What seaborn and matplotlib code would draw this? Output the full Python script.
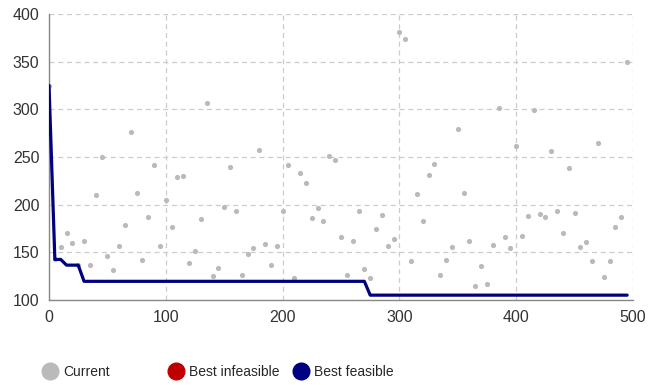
import seaborn as sns
import matplotlib.pyplot as plt
import pandas as pd
from matplotlib.lines import Line2D

# iteration sampled every 5 steps
iterations = list(range(0, 500, 5))

current = [325, 142.5, 155.3, 170.4, 159.5, 136.5, 161.6, 136.4, 210.3, 250.2,
           145.9, 131.9, 157.1, 178.8, 276.1, 212.4, 142, 186.8, 242.1, 157.1,
           204.7, 176.7, 228.5, 230.2, 138.5, 151.5, 184.7, 306.5, 125.6, 133,
           197.3, 240, 193.8, 126, 148, 154.3, 257.5, 159.2, 137.1, 156.4,
           193.1, 241.4, 123.5, 232.7, 223.2, 185.8, 196, 182.6, 251.2, 247,
           166.5, 126.6, 162.3, 193.8, 132.6, 123.1, 174.2, 188.6, 156.7, 163.7,
           380.7, 373.7, 141, 211, 182.6, 230.6, 242.5, 126.6, 142, 156,
           279.6, 212, 162, 115, 136.1, 116.8, 157.4, 301, 165.8, 154.3,
           261.7, 167.6, 188.2, 299.2, 190, 187.5, 255.8, 192.8, 170.7, 238,
           191.7, 156, 161.3, 141.3, 264.9, 124.2, 141, 176.3, 187.2, 349.2]

best_feasible = [325, 142.5, 142.5, 136.5, 136.5, 136.5] + [119.5] * 49 + [105] * 45

best_infeasible = []  # nothing infeasible found, legend only

x_ticks = [0, 100, 200, 300, 400, 500]
y_ticks = [100, 150, 200, 250, 300, 350, 400]

GRAY = "#bababa"
RED = "#c00000"
NAVY = "#000080"

sns.set_theme(style="whitegrid")
plt.rcParams['font.family'] = ['Liberation Sans', 'DejaVu Sans']

fig = plt.figure(figsize=(6.58, 3.85), dpi=100)
ax = fig.add_axes([0.0745, 0.221, 0.8875, 0.7425])

df = pd.DataFrame({"Iteration": iterations, "Current": current,
                   "Best feasible": best_feasible})

sns.scatterplot(data=df, x="Iteration", y="Current", ax=ax, color=GRAY,
                s=14, linewidth=0, zorder=2)
sns.lineplot(data=df, x="Iteration", y="Best feasible", ax=ax, color=NAVY,
             linewidth=2.3, zorder=3)

ax.set_xlim(0, 500)
ax.set_ylim(100, 400)
ax.set_xticks(x_ticks)
ax.set_yticks(y_ticks)
ax.set_xlabel("")
ax.set_ylabel("")
ax.set_facecolor("white")

ax.grid(True, color="#cccccc", linestyle=(0, (4, 3)), linewidth=0.9)
for side in ["top", "right"]:
    ax.spines[side].set_visible(False)
for side in ["left", "bottom"]:
    ax.spines[side].set_visible(True)
    ax.spines[side].set_color("#888888")
    ax.spines[side].set_linewidth(1.0)
ax.tick_params(axis="both", which="both", length=4, width=0.8, color="#888888",
               labelsize=11.5, labelcolor="#333333", pad=3)

# legend: three evenly spaced entries below the plot
entries = [("Current", GRAY, 0.0634), ("Best infeasible", RED, 0.2549),
           ("Best feasible", NAVY, 0.4448)]
for label, col, xpos in entries:
    h = Line2D([], [], marker="o", linestyle="", markersize=12,
               markerfacecolor=col, markeredgecolor=col, label=label)
    fig.legend(handles=[h], loc="center left", bbox_to_anchor=(xpos, 0.034),
               frameon=False, fontsize=10, handlelength=1.2,
               handletextpad=0.35, borderpad=0, borderaxespad=0)

plt.savefig("out.png", dpi=100)
